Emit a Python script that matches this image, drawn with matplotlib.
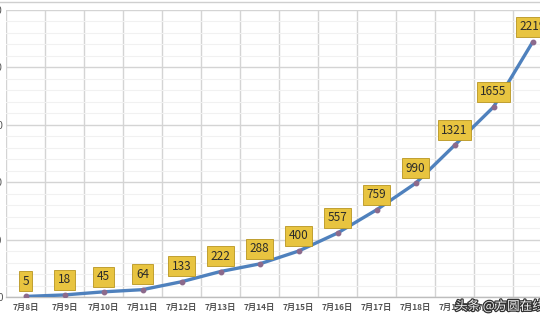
import matplotlib
matplotlib.use("Agg")
import matplotlib.pyplot as plt
from matplotlib.ticker import MultipleLocator, FixedLocator
import matplotlib.patheffects as pe
from matplotlib.lines import Line2D

plt.rcParams['font.family'] = ['Noto Sans CJK SC', 'DejaVu Sans']

dates = ["7月8日", "7月9日", "7月10日", "7月11日", "7月12日", "7月13日", "7月14日",
         "7月15日", "7月16日", "7月17日", "7月18日", "7月19日", "7月20日", "7月21日"]
values = [5, 18, 45, 64, 133, 222, 288, 400, 557, 759, 990, 1321, 1655, 2219]
yticks = [0, 500, 1000, 1500, 2000, 2500]

W, H = 540, 320
fig = plt.figure(figsize=(W / 100, H / 100), dpi=100)
fig.patch.set_facecolor("white")

left_px, bottom_px, top_px = 6.0, 297.0, 10.0
slot = 39.0
n = len(dates)
ax = fig.add_axes([left_px / W, 1 - bottom_px / H, slot * n / W, (bottom_px - top_px) / H])
ax.set_xlim(-0.5, n - 0.5)
ax.set_ylim(0, 2500)

# grid
ax.yaxis.set_major_locator(FixedLocator(yticks))
ax.yaxis.set_minor_locator(MultipleLocator(100))
ax.xaxis.set_major_locator(FixedLocator(range(n)))
ax.xaxis.set_minor_locator(FixedLocator([i - 0.5 for i in range(n + 1)]))
ax.grid(which="major", axis="y", color="#d4d4d4", lw=1.0)
ax.grid(which="minor", axis="y", color="#f1f1f1", lw=0.8)
ax.grid(which="minor", axis="x", color="#d4d4d4", lw=1.0)
ax.set_axisbelow(True)

for s in ["top", "right", "left"]:
    ax.spines[s].set_visible(False)
ax.spines["bottom"].set_color("#bdbdbd")
ax.spines["bottom"].set_linewidth(1.0)

ax.set_xticks(range(n))
ax.set_xticklabels(dates, fontsize=6, color="#555555", fontweight="bold")
ax.tick_params(axis="x", which="both", length=0, pad=4)
ax.set_yticks(yticks)
ax.set_yticklabels([str(v) for v in yticks], fontsize=7, color="#555555")
ax.tick_params(axis="y", which="both", length=0, pad=2.5)

x = list(range(n))
ax.plot(x, values, color="#4f81bd", lw=2.4, zorder=3, solid_capstyle="round")
ax.plot(x, values, ls="none", marker="o", ms=3.2, color="#8c6a8c", zorder=4)

for xi, v in zip(x, values):
    ax.annotate(str(v), (xi, v), xytext=(0, 11), textcoords="offset points",
                ha="center", va="center", fontsize=8.5, color="#2b2b2b",
                bbox=dict(boxstyle="square,pad=0.3", fc="#e8c440", ec="#b89520", lw=0.6),
                zorder=5)

# chart-area top border
fig.add_artist(Line2D([0, 1], [1 - 1.5 / H, 1 - 1.5 / H], color="#cfcfcf", lw=1.0))

fig.text(455 / W, 1 - 306 / H, "头条 @方圆在线", fontsize=9, color="#f2f2f2",
         ha="left", va="center",
         path_effects=[pe.withStroke(linewidth=1.8, foreground="#333333")])

fig.savefig("out.png", dpi=100)
